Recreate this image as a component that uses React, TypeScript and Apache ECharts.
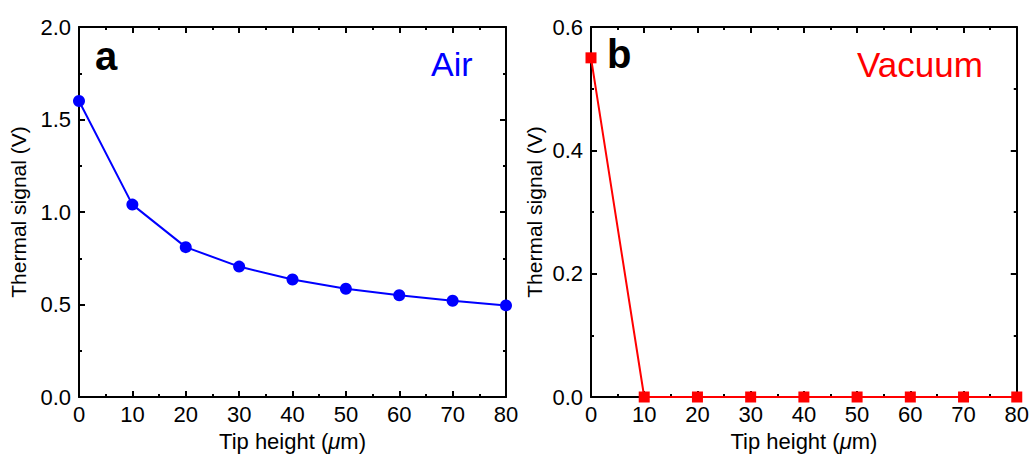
import React, { useEffect, useRef } from "react";
import * as echarts from "echarts";

const heights = [0, 10, 20, 30, 40, 50, 60, 70, 80];
const airSignal = [1.6, 1.04, 0.81, 0.705, 0.635, 0.585, 0.55, 0.52, 0.495];
const vacuumSignal = [0.55, 0, 0, 0, 0, 0, 0, 0, 0];
const xTicks = [0, 10, 20, 30, 40, 50, 60, 70, 80];

const FONT = "Liberation Sans, Arial, sans-serif";

export default function App() {
  const ref = useRef<HTMLDivElement>(null);
  useEffect(() => {
    const chart = echarts.init(ref.current!, null, { renderer: "svg" });
    const axisLine = { show: true, lineStyle: { color: "#000", width: 2 } };
    const xBase = (gi: number, pos: "bottom" | "top", z: number) => ({
      type: "value",
      gridIndex: gi,
      position: pos,
      min: 0,
      max: 80,
      interval: 10,
      z,
      axisLine: { ...axisLine, onZero: false },
      axisTick: { show: true, inside: true, length: 6, lineStyle: { color: "#000", width: 2 } },
      minorTick: { show: true, splitNumber: 2, length: 3, lineStyle: { color: "#000", width: 2 } },
      splitLine: { show: false },
      axisLabel: {
        show: pos === "bottom",
        color: "#000",
        fontSize: 22,
        fontFamily: FONT,
        margin: 6,
        formatter: (v: number) => (xTicks.includes(v) ? String(v) : ""),
      },
      ...(pos === "bottom"
        ? {
            name: "{n|Tip height (}{i|μ}{n|m)}",
            nameLocation: "middle",
            nameGap: 33,
            nameTextStyle: {
              fontSize: 22,
              fontFamily: FONT,
              color: "#000",
              rich: {
                n: { fontSize: 22, fontFamily: FONT, color: "#000" },
                i: { fontSize: 22, fontFamily: FONT, color: "#000", fontStyle: "italic" },
              },
            },
          }
        : {}),
    });
    const yBase = (gi: number, pos: "left" | "right", max: number, interval: number, gap: number) => ({
      type: "value",
      gridIndex: gi,
      position: pos,
      min: 0,
      max,
      interval,
      axisLine: { ...axisLine, onZero: false },
      axisTick: { show: true, inside: true, length: 6, lineStyle: { color: "#000", width: 2 } },
      minorTick: { show: true, splitNumber: 2, length: 3, lineStyle: { color: "#000", width: 2 } },
      splitLine: { show: false },
      axisLabel: {
        show: pos === "left",
        color: "#000",
        fontSize: 22,
        fontFamily: FONT,
        margin: 8,
        formatter: (v: number) => v.toFixed(1),
      },
      ...(pos === "left"
        ? {
            name: "Thermal signal (V)",
            nameLocation: "middle",
            nameGap: gap,
            nameRotate: 90,
            nameTextStyle: { fontSize: 21, fontFamily: FONT, color: "#000" },
          }
        : {}),
    });

    chart.setOption({
      animation: false,
      backgroundColor: "#fff",
      grid: [
        { left: 79, top: 27, width: 427, height: 373 },
        { left: 591, top: 27, width: 426, height: 373 },
      ],
      xAxis: [xBase(0, "bottom", 0), xBase(0, "top", 0), xBase(1, "bottom", 3), xBase(1, "top", 0)],
      yAxis: [
        yBase(0, "left", 2, 0.5, 50),
        yBase(0, "right", 2, 0.5, 50),
        yBase(1, "left", 0.6, 0.2, 46),
        yBase(1, "right", 0.6, 0.2, 46),
      ],
      series: [
        {
          type: "line",
          xAxisIndex: 0,
          yAxisIndex: 0,
          data: heights.map((h, i) => [h, airSignal[i]]),
          symbol: "circle",
          symbolSize: 12,
          itemStyle: { color: "#0000ff" },
          lineStyle: { color: "#0000ff", width: 2 },
          clip: false,
        },
        {
          type: "line",
          xAxisIndex: 2,
          yAxisIndex: 2,
          data: heights.map((h, i) => [h, vacuumSignal[i]]),
          symbol: "rect",
          symbolSize: 11,
          itemStyle: { color: "#ff0000" },
          lineStyle: { color: "#ff0000", width: 2 },
          clip: false,
        },
      ],
      graphic: [
        { type: "text", x: 95, y: 56, style: { text: "a", font: `bold 40px ${FONT}`, fill: "#000", verticalAlign: "middle" } },
        { type: "text", x: 431, y: 64, style: { text: "Air", font: `34px ${FONT}`, fill: "#0000ff", verticalAlign: "middle" } },
        { type: "text", x: 607, y: 54, style: { text: "b", font: `bold 40px ${FONT}`, fill: "#000", verticalAlign: "middle" } },
        { type: "text", x: 857, y: 64, style: { text: "Vacuum", font: `35px ${FONT}`, fill: "#ff0000", verticalAlign: "middle" } },
      ],
    });
    return () => chart.dispose();
  }, []);
  return <div ref={ref} style={{ width: 1032, height: 457, position: "absolute", left: 0, top: 0 }} />;
}
